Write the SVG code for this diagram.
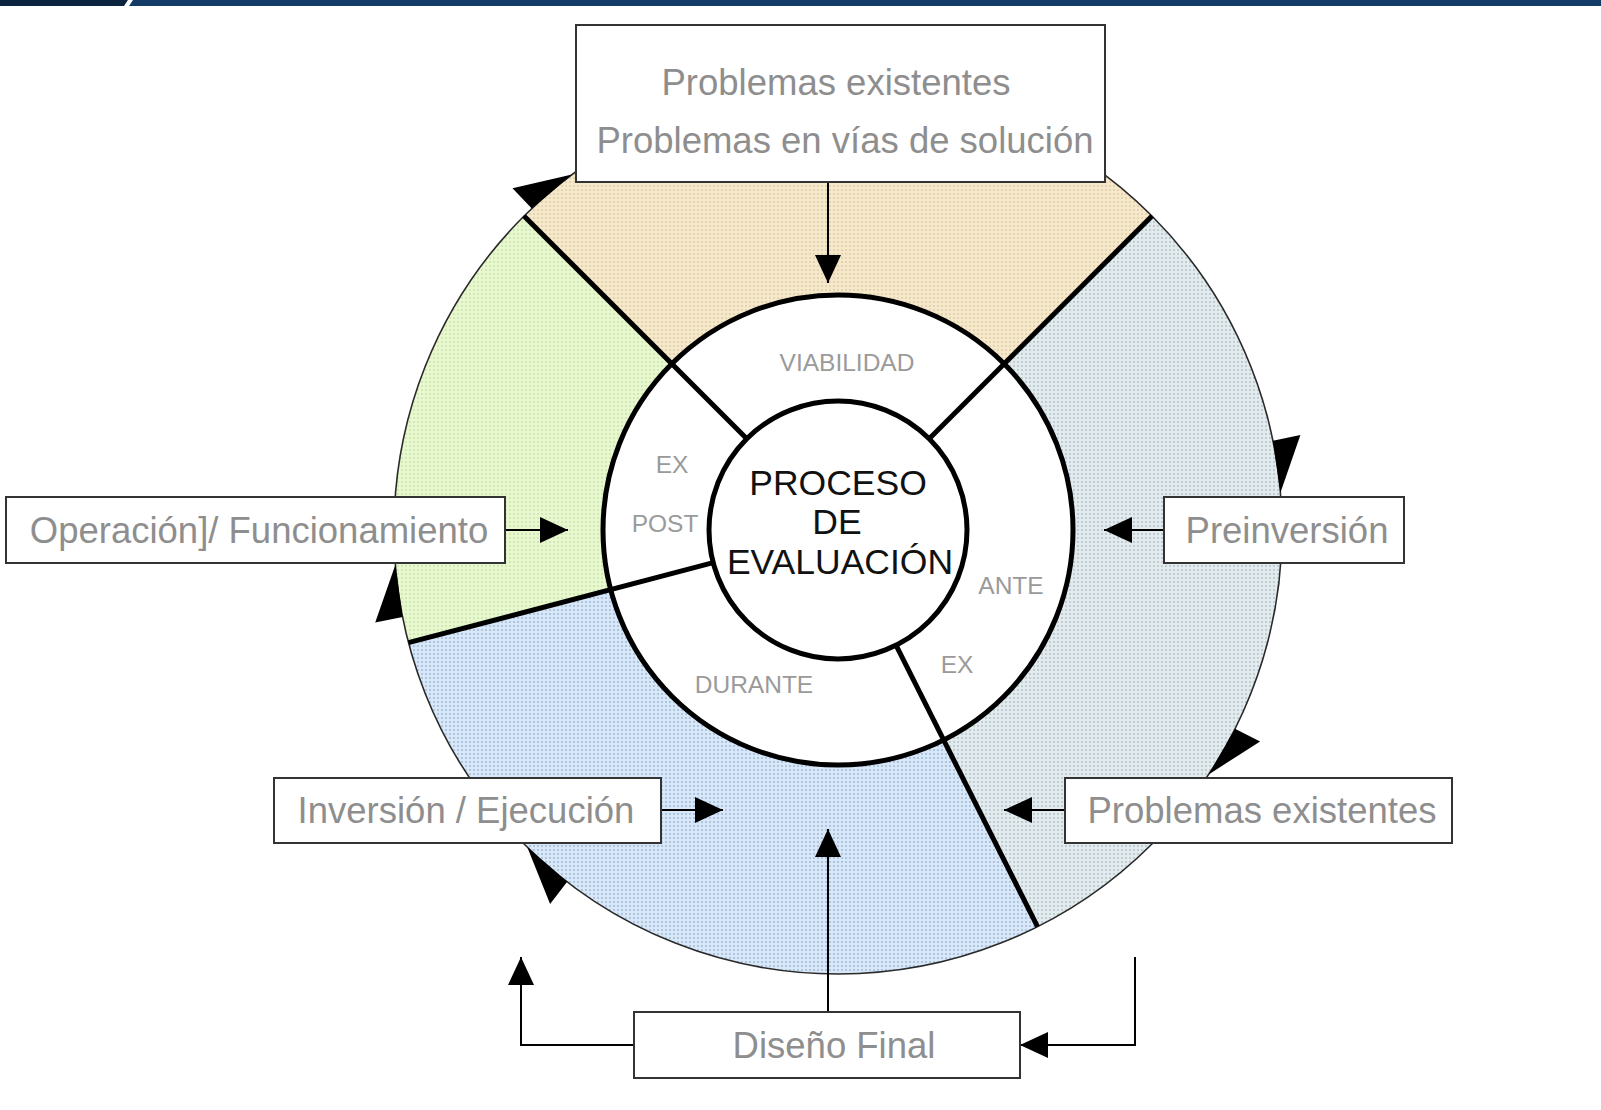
<svg xmlns="http://www.w3.org/2000/svg" width="1601" height="1110" viewBox="0 0 1601 1110">
  <style>
    .box { fill: #ffffff; stroke: #333333; stroke-width: 2; }
    .btxt { font-family: "Liberation Sans", Arial, sans-serif; font-size: 36.5px; fill: #8e8e8e; text-anchor: middle; }
    .rtxt { font-family: "Liberation Sans", Arial, sans-serif; font-size: 24.5px; fill: #9a9a9a; text-anchor: middle; }
    .ctxt { font-family: "Liberation Sans", Arial, sans-serif; font-size: 35.5px; fill: #111111; text-anchor: middle; }
    .thick { stroke: #000000; stroke-width: 5; fill: none; }
    .conn { stroke: #000000; stroke-width: 2; fill: none; marker-end: url(#ah); }
    .arc-head { fill: #000000; }
  </style>
  <defs>
    <pattern id="pTan" patternUnits="userSpaceOnUse" width="4" height="4">
      <rect width="4" height="4" fill="#f6e8cb"/>
      <circle cx="2" cy="2" r="0.9" fill="#dccaa2"/>
    </pattern>
    <pattern id="pGreen" patternUnits="userSpaceOnUse" width="4" height="4">
      <rect width="4" height="4" fill="#e8f8cf"/>
      <circle cx="2" cy="2" r="0.9" fill="#c9e0ab"/>
    </pattern>
    <pattern id="pBlue" patternUnits="userSpaceOnUse" width="4" height="4">
      <rect width="4" height="4" fill="#d9e8f8"/>
      <circle cx="2" cy="2" r="0.9" fill="#98b4d4"/>
    </pattern>
    <pattern id="pGray" patternUnits="userSpaceOnUse" width="4" height="4">
      <rect width="4" height="4" fill="#e3ebee"/>
      <circle cx="2" cy="2" r="0.9" fill="#adbfc8"/>
    </pattern>
    <marker id="ah" markerUnits="userSpaceOnUse" markerWidth="30" markerHeight="26" refX="28" refY="13" orient="auto">
      <path d="M0,0 L28,13 L0,26 Z" fill="#000000"/>
    </marker>
  </defs>

  <!-- top bar -->
  <rect x="0" y="0" width="1601" height="6" fill="#133b68"/>
  <polygon points="0,0 128,0 124,6 0,6" fill="#0c2340"/>
  <polygon points="128,0 133,0 129,6 124,6" fill="#ffffff"/>

  <!-- sectors -->
  <g id="sectors">
    <path d="M838,530 L524,216 A444,444 0 0 1 1152,216 Z" fill="url(#pTan)"/>
    <path d="M838,530 L1152,216 A444,444 0 0 1 1037.5,926.7 Z" fill="url(#pGray)"/>
    <path d="M838,530 L1037.5,926.7 A444,444 0 0 1 408.5,642.7 Z" fill="url(#pBlue)"/>
    <path d="M838,530 L408.5,642.7 A444,444 0 0 1 524,216 Z" fill="url(#pGreen)"/>
    <circle cx="838" cy="530" r="444" fill="none" stroke="#2a2a2a" stroke-width="1.6"/>
  </g>

  <!-- arc arrowheads on the outer circle -->
  <g id="cycle-arrows">
    <polygon class="arc-head" points="572,174.5 531.8,208.5 512.5,188.2"/>
    <polygon class="arc-head" points="1280.4,492.8 1272.9,440.7 1300.4,435.1"/>
    <polygon class="arc-head" points="1208.7,774.4 1235,728.8 1260.1,741.4"/>
    <polygon class="arc-head" points="527.3,847.2 567.2,881.8 550.1,904"/>
    <polygon class="arc-head" points="395.4,564.8 402.6,617 375.2,622.5"/>
  </g>

  <!-- ring -->
  <g id="ring">
    <circle cx="838" cy="530" r="235" fill="#ffffff" stroke="#000000" stroke-width="5"/>
    <line class="thick" x1="524" y1="216" x2="746.8" y2="438.8"/>
    <line class="thick" x1="1152" y1="216" x2="929.2" y2="438.8"/>
    <line class="thick" x1="408.5" y1="642.7" x2="713.2" y2="562.7"/>
    <line class="thick" x1="1037.5" y1="926.7" x2="896" y2="645.2"/>
    <text class="rtxt" x="847" y="371">VIABILIDAD</text>
    <text class="rtxt" x="672" y="473">EX</text>
    <text class="rtxt" x="665" y="532">POST</text>
    <text class="rtxt" x="1011" y="594">ANTE</text>
    <text class="rtxt" x="957" y="673">EX</text>
    <text class="rtxt" x="754" y="693">DURANTE</text>
  </g>

  <g id="node-center">
    <circle cx="838" cy="530" r="129" fill="#ffffff" stroke="#000000" stroke-width="5"/>
    <text class="ctxt" x="838" y="495">PROCESO</text>
    <text class="ctxt" x="837" y="534">DE</text>
    <text class="ctxt" x="840" y="574">EVALUACIÓN</text>
  </g>

  <!-- connectors -->
  <g id="connectors">
    <path class="conn" d="M828,182 V283"/>
    <path class="conn" d="M505,530 H568"/>
    <path class="conn" d="M1164,530 H1104"/>
    <path class="conn" d="M661,810 H723"/>
    <path class="conn" d="M1065,810 H1004"/>
    <path class="conn" d="M828,1012 V829"/>
    <path class="conn" d="M634,1045 H521 V957"/>
    <path class="conn" d="M1135,957 V1045 H1020"/>
  </g>

  <!-- nodes -->
  <g id="node-problemas-top">
    <rect class="box" x="576" y="25" width="529" height="157"/>
    <text class="btxt" x="836" y="95">Problemas existentes</text>
    <text class="btxt" x="845" y="153">Problemas en vías de solución</text>
  </g>
  <g id="node-operacion">
    <rect class="box" x="6" y="497" width="499" height="66"/>
    <text class="btxt" x="259" y="543">Operación]/ Funcionamiento</text>
  </g>
  <g id="node-preinversion">
    <rect class="box" x="1164" y="497" width="240" height="66"/>
    <text class="btxt" x="1287" y="543">Preinversión</text>
  </g>
  <g id="node-inversion">
    <rect class="box" x="274" y="778" width="387" height="65"/>
    <text class="btxt" x="466" y="823">Inversión / Ejecución</text>
  </g>
  <g id="node-problemas-right">
    <rect class="box" x="1065" y="778" width="387" height="65"/>
    <text class="btxt" x="1262" y="823">Problemas existentes</text>
  </g>
  <g id="node-diseno">
    <rect class="box" x="634" y="1012" width="386" height="66"/>
    <text class="btxt" x="834" y="1058">Diseño Final</text>
  </g>
</svg>
